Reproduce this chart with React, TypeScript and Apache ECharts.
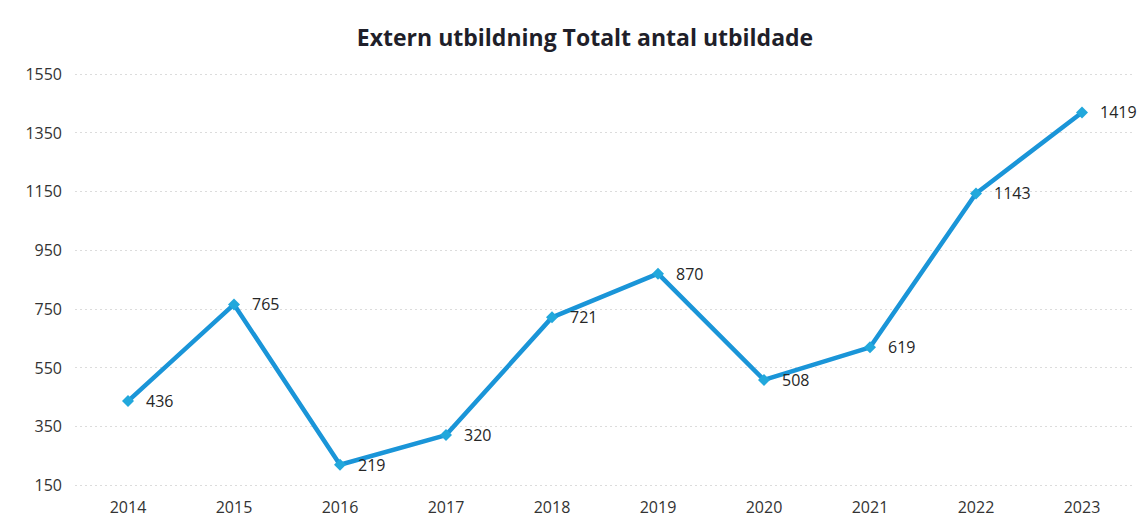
import React, { useEffect, useRef } from "react";
import * as echarts from "echarts";

const titleText = "Extern utbildning Totalt antal utbildade";
const years = ["2014", "2015", "2016", "2017", "2018", "2019", "2020", "2021", "2022", "2023"];
const trained = [436, 765, 219, 320, 721, 870, 508, 619, 1143, 1419];
const yMin = 150;
const yMax = 1550;
const yStep = 200;

export default function App() {
  const ref = useRef<HTMLDivElement>(null);
  useEffect(() => {
    if (!ref.current) return;
    const chart = echarts.init(ref.current, null, { renderer: "svg" });
    chart.setOption({
      animation: false,
      backgroundColor: "#ffffff",
      title: {
        text: titleText,
        left: 580,
        textAlign: "center",
        top: 20,
        textStyle: {
          fontFamily: "Open Sans",
          fontWeight: "bold",
          fontSize: 23,
          color: "#1f1f2a",
        },
      },
      grid: { left: 75, right: 13, top: 74, bottom: 37 },
      xAxis: {
        type: "category",
        data: years,
        boundaryGap: true,
        axisLine: { show: false },
        axisTick: { show: false },
        axisLabel: {
          margin: 14,
          fontFamily: "Open Sans",
          fontSize: 16,
          color: "#333333",
        },
      },
      yAxis: {
        type: "value",
        min: yMin,
        max: yMax,
        interval: yStep,
        axisLine: { show: false },
        axisTick: { show: false },
        axisLabel: {
          margin: 13,
          fontFamily: "Open Sans",
          fontSize: 16,
          color: "#333333",
          formatter: (v: number) => String(v),
        },
        splitLine: {
          lineStyle: { color: "#dcdcdc", type: [2, 3], width: 1 },
        },
      },
      series: [
        {
          type: "line",
          data: trained,
          symbol: "diamond",
          symbolSize: 12,
          lineStyle: { color: "#1a95d8", width: 4.5 },
          itemStyle: { color: "#22a8dc" },
          label: {
            show: true,
            position: "right",
            distance: 12,
            fontFamily: "Open Sans",
            fontSize: 16,
            color: "#262626",
          },
        },
      ],
    });
    return () => chart.dispose();
  }, []);
  return (
    <div
      ref={ref}
      style={{ position: "absolute", left: 0, top: 0, width: 1148, height: 522 }}
    />
  );
}
